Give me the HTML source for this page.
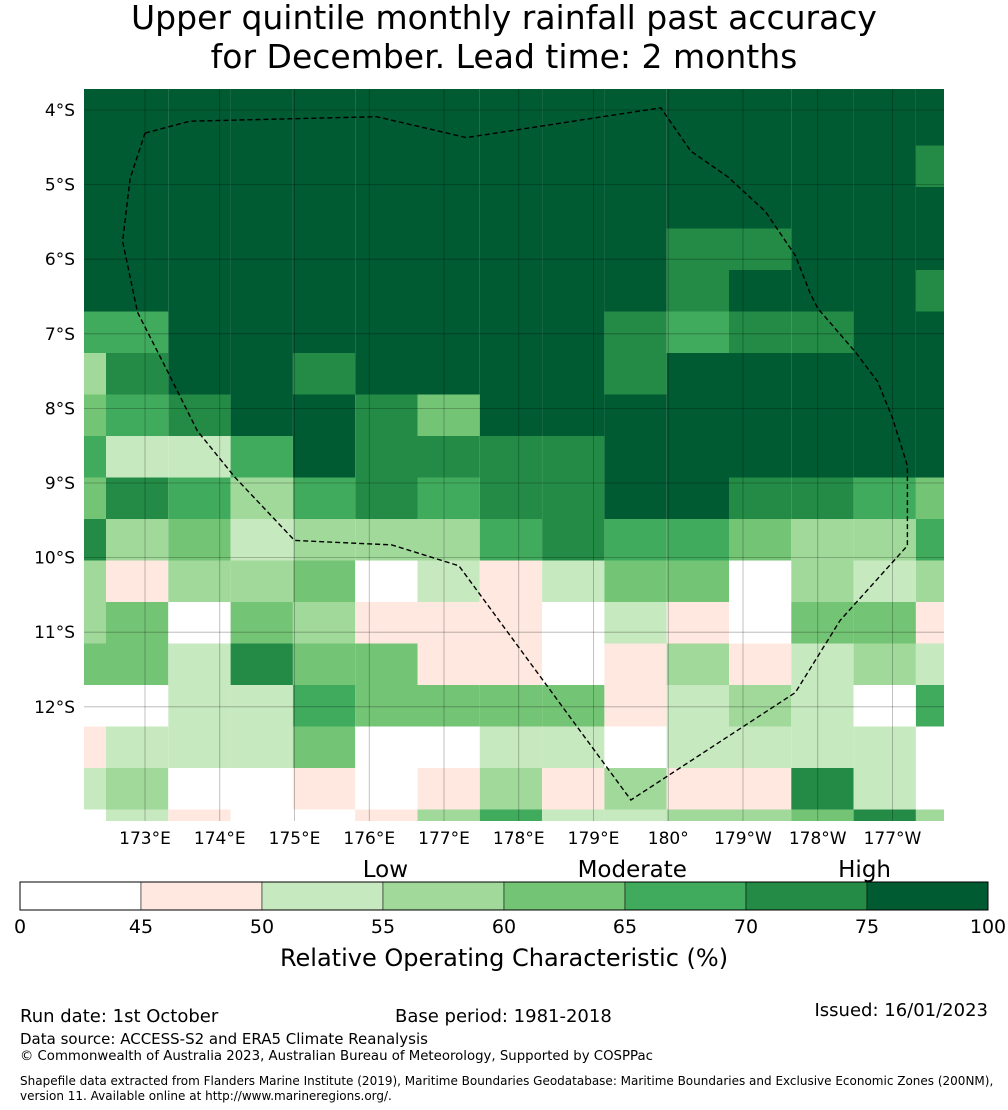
<!DOCTYPE html>
<html><head><meta charset="utf-8"><style>
body{margin:0;background:#fff;width:1008px;height:1110px;overflow:hidden;font-family:"DejaVu Sans","Liberation Sans",sans-serif}
svg{display:block}
text{font-family:"DejaVu Sans","Liberation Sans",sans-serif;fill:#000}
</style></head><body>
<svg id="chart" width="1008" height="1110" viewBox="0 0 1008 1110" xmlns="http://www.w3.org/2000/svg">
<text x="504" y="29" font-size="33" text-anchor="middle">Upper quintile monthly rainfall past accuracy</text>
<text x="504" y="68" font-size="33" text-anchor="middle">for December. Lead time: 2 months</text>
<g id="map"></g>
<g id="axes"></g>
<g id="cbar"></g>
<text x="504" y="966" font-size="24" text-anchor="middle">Relative Operating Characteristic (%)</text>
<text x="20" y="1022" font-size="18">Run date: 1st October</text>
<text x="395" y="1022" font-size="18">Base period: 1981-2018</text>
<text x="988" y="1016" font-size="18" text-anchor="end">Issued: 16/01/2023</text>
<text x="20" y="1044" font-size="15">Data source: ACCESS-S2 and ERA5 Climate Reanalysis</text>
<text x="20" y="1060" font-size="13.3">© Commonwealth of Australia 2023, Australian Bureau of Meteorology, Supported by COSPPac</text>
<text x="20" y="1085" font-size="12">Shapefile data extracted from Flanders Marine Institute (2019), Maritime Boundaries Geodatabase: Maritime Boundaries and Exclusive Economic Zones (200NM),</text>
<text x="20" y="1100" font-size="12">version 11. Available online at http://www.marineregions.org/.</text>
</svg>
<script>
const NS="http://www.w3.org/2000/svg";
const rocRows=[
[80,80,80,80,80,80,80,80,80,80,80,80,80,80,80],
[80,80,80,80,80,80,80,80,80,80,80,80,80,80,80],
[80,80,80,80,80,80,80,80,80,80,80,80,80,80,72],
[80,80,80,80,80,80,80,80,80,80,80,80,80,80,80],
[80,80,80,80,80,80,80,80,80,80,72,72,80,80,80],
[80,80,80,80,80,80,80,80,80,80,72,80,80,80,72],
[67,67,80,80,80,80,80,80,80,72,67,72,72,80,80],
[57,72,80,80,72,80,80,80,80,72,80,80,80,80,80],
[62,67,72,80,80,72,62,80,80,80,80,80,80,80,80],
[67,52,52,67,80,72,72,72,72,80,80,80,80,80,80],
[62,72,67,57,67,72,67,72,72,80,80,72,72,67,62],
[72,57,62,52,57,57,57,67,72,67,67,62,57,57,67],
[57,47,57,57,62,40,52,47,52,62,62,40,57,52,57],
[57,62,40,62,57,47,47,47,40,52,47,40,62,62,47],
[62,62,52,72,62,62,47,47,40,47,57,47,52,57,52],
[40,40,52,52,67,62,62,62,62,47,52,57,52,40,67],
[47,52,52,52,62,40,40,52,52,40,52,52,52,52,40],
[52,57,40,40,47,40,47,57,47,57,47,47,72,52,40],
[40,52,47,40,40,47,57,67,52,52,57,57,62,72,57]
];
const bounds=[0,45,50,55,60,65,70,75,100];
const boundLabels=["0","45","50","55","60","65","70","75","100"];
const colors=["#ffffff","#fee8e0","#c7e9c0","#a1d99b","#74c476","#41ab5d","#238b45","#005a32"];
const latTicks=[4,5,6,7,8,9,10,11,12];
const latLabels=["4°S","5°S","6°S","7°S","8°S","9°S","10°S","11°S","12°S"];
const lonTicks=[173,174,175,176,177,178,179,180,181,182,183];
const lonLabels=["173°E","174°E","175°E","176°E","177°E","178°E","179°E","180°","179°W","178°W","177°W"];
const categoryLabels=["Low","Moderate","High"];
const categoryCenters=[55.1,65.3,74.9];
const eezLon=[173,173.6,176.1,177.3,179.9,180.3,180.8,181.3,181.7,181.9,182.0,182.5,182.8,183.0,183.2,183.2,182.3,181.7,179.5,177.2,176.3,175.0,174.2,173.7,173.3,172.9,172.7,172.8,173];
const eezLat=[4.31,4.15,4.09,4.37,3.97,4.55,4.9,5.36,5.95,6.46,6.66,7.24,7.64,8.13,8.77,9.84,10.84,11.81,13.25,10.11,9.83,9.77,8.92,8.3,7.5,6.71,5.76,4.92,4.31];

const X0=84,X1=944,Y0=89,Y1=821;
const lonX=l=>145+(l-173)*74.75;
const latY=l=>110+(l-4)*74.6;
const colX=i=>i===0?X0:Math.min(X1,106+(i-1)*62.3);
const rowY=i=>i===0?Y0:Math.min(Y1,104+(i-1)*41.5);
function colorFor(v){for(let k=bounds.length-2;k>=0;k--){if(v>=bounds[k])return colors[k];}return colors[0];}
function mk(tag,attrs,parent){const e=document.createElementNS(NS,tag);for(const k in attrs)e.setAttribute(k,attrs[k]);parent.appendChild(e);return e;}

const map=document.getElementById('map');
rocRows.forEach((row,r)=>{row.forEach((v,c)=>{
  const e=mk('rect',{x:colX(c),y:rowY(r),width:colX(c+1)-colX(c),height:rowY(r+1)-rowY(r),fill:colorFor(v)},map);
  
  
});});
latTicks.forEach(t=>{const g=mk('line',{x1:X0,x2:X1,y1:latY(t),y2:latY(t),stroke:'rgba(0,0,0,0.3)','stroke-width':0.8},map);
  });
lonTicks.forEach(t=>{const g=mk('line',{x1:lonX(t),x2:lonX(t),y1:Y0,y2:Y1,stroke:'rgba(0,0,0,0.3)','stroke-width':0.8},map);
  });
const pts=eezLon.map((l,i)=>lonX(l).toFixed(1)+','+latY(eezLat[i]).toFixed(1)).join(' ');
const eez=mk('polyline',{points:pts,fill:'none',stroke:'#000','stroke-width':1.4,'stroke-dasharray':'5,3'},map);



const axes=document.getElementById('axes');
latTicks.forEach((t,i)=>{const e=mk('text',{x:75,y:latY(t)+6,'font-size':17,'text-anchor':'end'},axes);e.textContent=latLabels[i];
  });
lonTicks.forEach((t,i)=>{const e=mk('text',{x:lonX(t),y:844,'font-size':17,'text-anchor':'middle'},axes);e.textContent=lonLabels[i];
  });

const CB0=20,CB1=988,CBY=882,CBH=28;
const seg=(CB1-CB0)/(bounds.length-1);
const cbX=v=>{for(let k=0;k<bounds.length-1;k++){if(v<=bounds[k+1])return CB0+seg*(k+(v-bounds[k])/(bounds[k+1]-bounds[k]));}return CB1;};
const cb=document.getElementById('cbar');
colors.forEach((c,k)=>{const e=mk('rect',{x:cbX(bounds[k]),y:CBY,width:cbX(bounds[k+1])-cbX(bounds[k]),height:CBH,fill:c,stroke:'#000','stroke-width':0.5},cb);
  });
const fr=mk('rect',{x:CB0,y:CBY,width:CB1-CB0,height:CBH,fill:'none',stroke:'#000','stroke-width':1},cb);

bounds.forEach((b,i)=>{const e=mk('text',{x:cbX(b),y:933,'font-size':19,'text-anchor':'middle'},cb);e.textContent=boundLabels[i];
  });
categoryLabels.forEach((l,i)=>{const e=mk('text',{x:cbX(categoryCenters[i]),y:877,'font-size':23,'text-anchor':'middle'},cb);e.textContent=l;
  });
</script>
</body></html>
